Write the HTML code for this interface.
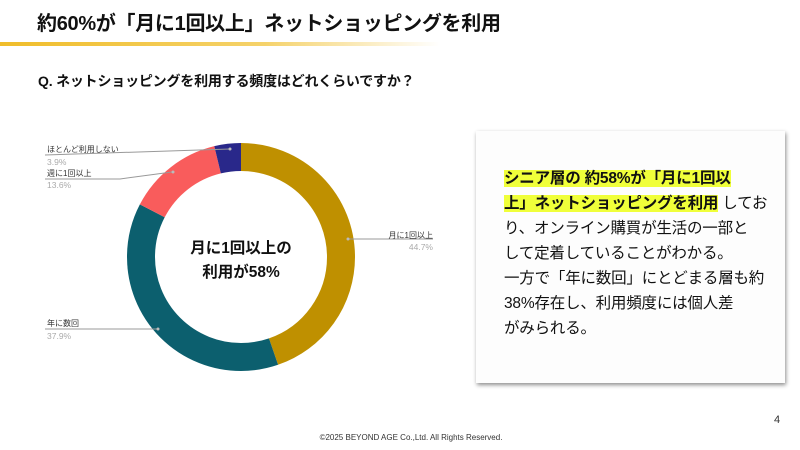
<!DOCTYPE html><html><head><meta charset="utf-8"><style>
body{margin:0;width:800px;height:450px;background:#fff;position:relative;overflow:hidden;font-family:"Liberation Sans","Noto Sans CJK JP",sans-serif;color:#111}
.a{position:absolute;white-space:nowrap}
.lb{font-size:8px;color:#333}
.pc{font-size:8.5px;color:#aaa}
.box{position:absolute;left:476px;top:131px;width:309px;height:252px;background:#fdfdfd;box-shadow:1px 2px 4px rgba(0,0,0,.45)}
.hl{background:#f0ff3a;font-weight:bold}
</style></head><body>
<div class="a" style="left:37px;top:7px;font-size:20px;font-weight:bold;letter-spacing:-0.3px">約60%が「月に1回以上」ネットショッピングを利用</div>
<div class="a" style="left:0;top:42px;width:440px;height:4px;background:linear-gradient(90deg,#f0bd2a 0%,#f5d26a 60%,rgba(255,255,255,0) 100%)"></div>
<div class="a" style="left:38px;top:71px;font-size:14px;font-weight:bold;letter-spacing:-0.2px">Q. ネットショッピングを利用する頻度はどれくらいですか？</div>
<svg class="a" style="left:0;top:0" width="800" height="450">
<g transform="rotate(-90 241 257)" fill="none" stroke-width="28">
<circle cx="241" cy="257" r="100" stroke="#bf9000" stroke-dasharray="280.9 400"/>
<circle cx="241" cy="257" r="100" stroke="#0c5f6e" stroke-dasharray="0 280.9 238.1 400"/>
<circle cx="241" cy="257" r="100" stroke="#f95c5c" stroke-dasharray="0 519 85.4 400"/>
<circle cx="241" cy="257" r="100" stroke="#29288a" stroke-dasharray="0 604.4 24.5 400"/>
</g>
<g stroke="#999" stroke-width="1" fill="none">
<polyline points="45,155 230,149"/>
<polyline points="45,179 120,179 172,172"/>
<polyline points="45,329 158,329"/>
<polyline points="348,239 433,239"/>
</g>
<g fill="#bbb"><circle cx="230" cy="149" r="1.5"/><circle cx="173" cy="172" r="1.5"/><circle cx="158" cy="329" r="1.5"/><circle cx="348" cy="239" r="1.5"/></g>
</svg>
<div class="a lb" style="left:47px;top:144px">ほとんど利用しない</div>
<div class="a pc" style="left:47px;top:157px">3.9%</div>
<div class="a lb" style="left:47px;top:168px">週に1回以上</div>
<div class="a pc" style="left:47px;top:180px">13.6%</div>
<div class="a lb" style="left:47px;top:318px">年に数回</div>
<div class="a pc" style="left:47px;top:331px">37.9%</div>
<div class="a lb" style="left:380px;top:230px;width:53px;text-align:right">月に1回以上</div>
<div class="a pc" style="left:380px;top:242px;width:53px;text-align:right">44.7%</div>
<div class="a" style="left:171px;top:237px;width:140px;text-align:center;font-size:15.5px;font-weight:bold;line-height:24px">月に1回以上の<br>利用が58%</div>
<div class="box"></div>
<div class="a" style="left:504px;top:166px;font-size:15.5px;line-height:25px;width:270px;white-space:normal;letter-spacing:-0.2px"><span class="hl">シニア層の 約58%が「月に1回以<br>上」ネットショッピングを利用</span> してお<br>り、オンライン購買が生活の一部と<br>して定着していることがわかる。<br>一方で「年に数回」にとどまる層も約<br>38%存在し、利用頻度には個人差<br>がみられる。</div>
<div class="a" style="left:774px;top:414px;font-size:11px;color:#333">4</div>
<div class="a" style="left:11px;width:800px;top:433px;text-align:center;font-size:8px;color:#333">©2025 BEYOND AGE Co.,Ltd. All Rights Reserved.</div>
</body></html>
